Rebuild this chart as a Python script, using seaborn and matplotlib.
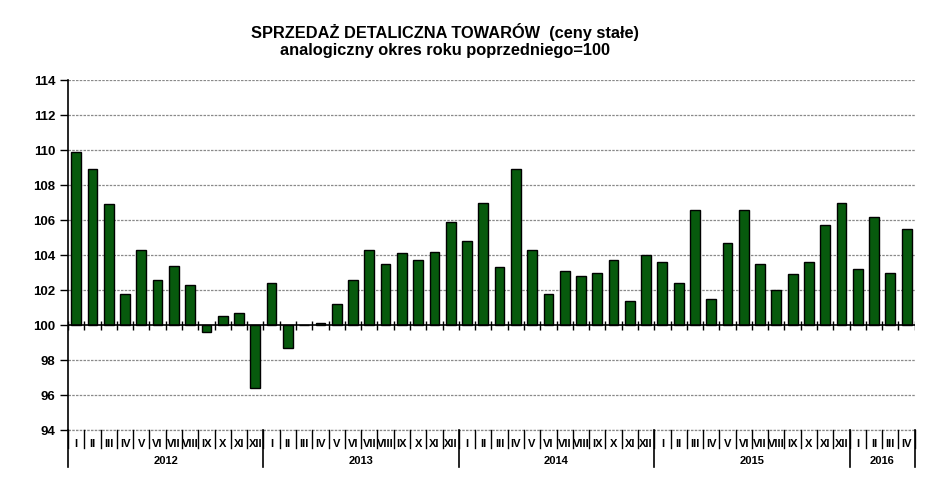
import numpy as np
import pandas as pd
import seaborn as sns
import matplotlib
matplotlib.use("Agg")
import matplotlib.pyplot as plt
from matplotlib.ticker import FuncFormatter
import matplotlib.transforms as mtransforms

months = ["I", "II", "III", "IV", "V", "VI", "VII", "VIII", "IX", "X", "XI", "XII"]
years = ["2012", "2013", "2014", "2015", "2016"]
months_per_year = [12, 12, 12, 12, 4]

v2012 = [109.9, 108.9, 106.9, 101.8, 104.3, 102.6, 103.4, 102.3, 99.6, 100.5, 100.7, 96.4]
v2013 = [102.4, 98.7, 100.0, 100.1, 101.2, 102.6, 104.3, 103.5, 104.1, 103.7, 104.2, 105.9]
v2014 = [104.8, 107.0, 103.3, 108.9, 104.3, 101.8, 103.1, 102.8, 103.0, 103.7, 101.4, 104.0]
v2015 = [103.6, 102.4, 106.6, 101.5, 104.7, 106.6, 103.5, 102.0, 102.9, 103.6, 105.7, 107.0]
v2016 = [103.2, 106.2, 103.0, 105.5]

values = v2012 + v2013 + v2014 + v2015 + v2016
labels = []
for n in months_per_year:
    labels += months[:n]

df = pd.DataFrame({"pos": np.arange(len(values)), "delta": np.array(values) - 100})

plt.rcParams['font.family'] = ['Liberation Sans', 'DejaVu Sans']
fig = plt.figure(figsize=(9.45, 4.86), dpi=100)
ax = fig.add_axes([0.072, 0.115, 0.896, 0.72])

# dashed grid first, bars on top
for g in range(-6, 15, 2):
    if g != 0:
        ax.axhline(g, color="#8a8a8a", lw=0.9, ls=(0, (2, 1)), zorder=0)

sns.barplot(data=df, x="pos", y="delta", color="#075a0d", saturation=1,
            width=0.6, edgecolor="black", linewidth=1.0, ax=ax, zorder=2)

n = len(values)
ax.set_xlim(-0.5, n - 0.5)
ax.set_ylim(-6, 14)
ax.set_yticks(range(-6, 15, 2))
ax.yaxis.set_major_formatter(FuncFormatter(lambda v, p: f"{int(round(v + 100))}"))
ax.tick_params(axis="y", length=6, width=1, labelsize=9.5, pad=3)
for t in ax.get_yticklabels():
    t.set_fontweight("bold")
ax.set_xticks([])
ax.set_xlabel("")
ax.set_ylabel("")

for s in ["top", "right", "bottom"]:
    ax.spines[s].set_visible(False)
ax.spines["left"].set_linewidth(1.2)
ax.spines["left"].set_bounds(-6, 14)

# axis line at 100 with small ticks between bars
ax.axhline(0, color="black", lw=1.2, zorder=3)
ax.vlines(np.arange(n + 1) - 0.5, -0.25, 0.25, color="black", lw=1, zorder=3)
ax.axhline(-6, color="#8a8a8a", lw=0.9, ls=(0, (2, 1)), zorder=1, clip_on=False)

# category rows below the plot
trans = mtransforms.blended_transform_factory(ax.transData, ax.transAxes)
for i, lab in enumerate(labels):
    ax.text(i, -0.025, lab, transform=trans, ha="center", va="top",
            fontsize=8, fontweight="bold")

bounds = np.cumsum([0] + months_per_year)
for b in range(n + 1):
    ax.plot([b - 0.5, b - 0.5], [0, -0.05], transform=trans, color="black",
            lw=1, clip_on=False)
for b in bounds:
    ax.plot([b - 0.5, b - 0.5], [0, -0.105], transform=trans, color="black",
            lw=1.2, clip_on=False)
for y, s, e in zip(years, bounds[:-1], bounds[1:]):
    ax.text((s + e - 1) / 2, -0.075, y, transform=trans, ha="center", va="top",
            fontsize=8, fontweight="bold")

fig.text(0.471, 0.935, "SPRZEDAŻ DETALICZNA TOWARÓW  (ceny stałe)", ha="center",
         va="center", fontsize=11.8, fontweight="bold")
fig.text(0.471, 0.897, "analogiczny okres roku poprzedniego=100", ha="center",
         va="center", fontsize=11.8, fontweight="bold")

fig.savefig("out.png", dpi=100, facecolor="white")
